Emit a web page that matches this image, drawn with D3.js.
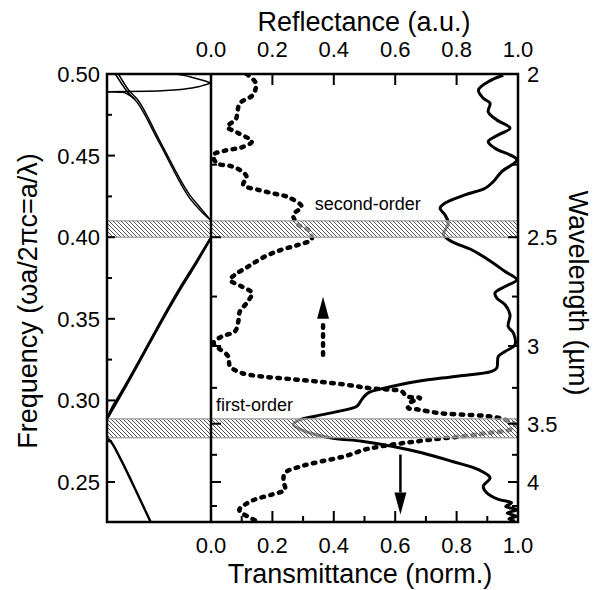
<!DOCTYPE html>
<html>
<head>
<meta charset="utf-8">
<script src="https://cdn.jsdelivr.net/npm/d3@7"></script>
<style>
body { margin: 0; background: #fff; }
text { font-family: "Liberation Sans", Arial, Helvetica, sans-serif; fill: #000; }
</style>
</head>
<body>
<div id="chart"></div>
<script>
// Reflectance (dotted), [frequency, value]
var reflectance = [
    [0.5000,0.116],[0.4943,0.146],[0.4871,0.136],[0.4821,0.094],[0.4769,0.086],[0.4723,0.081],
    [0.4677,0.053],[0.4641,0.086],[0.4586,0.133],[0.4551,0.100],[0.4531,0.046],[0.4504,0.008],
    [0.4453,0.019],[0.4437,0.062],[0.4412,0.094],[0.4371,0.116],[0.4321,0.105],[0.4290,0.154],
    [0.4266,0.208],[0.4245,0.252],[0.4188,0.295],[0.4137,0.268],[0.4076,0.284],[0.4045,0.317],
    [0.3988,0.328],[0.3953,0.284],[0.3923,0.230],[0.3882,0.176],[0.3821,0.122],[0.3770,0.078],
    [0.3739,0.062],[0.3698,0.100],[0.3658,0.133],[0.3597,0.116],[0.3545,0.094],[0.3484,0.089],
    [0.3423,0.078],[0.3392,0.035],[0.3352,0.008],[0.3321,0.024],[0.3270,0.056],[0.3209,0.062],
    [0.3168,0.100],[0.3147,0.165],[0.3132,0.252],[0.3117,0.339],[0.3097,0.436],[0.3076,0.512],
    [0.3066,0.577],[0.3056,0.621],[0.3025,0.637],[0.3015,0.681],[0.2985,0.648],[0.2954,0.642],
    [0.2944,0.675],[0.2923,0.740],[0.2913,0.817],[0.2903,0.903],[0.2882,0.958],[0.2852,0.990],
    [0.2821,0.974],[0.2801,0.903],[0.2780,0.817],[0.2760,0.719],[0.2740,0.632],[0.2719,0.556],
    [0.2699,0.502],[0.2658,0.436],[0.2627,0.361],[0.2597,0.295],[0.2556,0.241],[0.2505,0.236],
    [0.2454,0.241],[0.2423,0.198],[0.2393,0.143],[0.2362,0.111],[0.2330,0.092],[0.2311,0.100],
    [0.2290,0.118],[0.2260,0.149]
];

// Transmittance (solid), [frequency, value]
var transmittance = [
    [0.4994,0.952],[0.4953,0.903],[0.4902,0.871],[0.4851,0.887],[0.4821,0.909],[0.4769,0.903],
    [0.4718,0.931],[0.4668,0.974],[0.4627,0.936],[0.4586,0.903],[0.4545,0.925],[0.4474,0.996],
    [0.4402,0.947],[0.4341,0.920],[0.4300,0.893],[0.4259,0.827],[0.4209,0.762],[0.4178,0.746],
    [0.4137,0.762],[0.4086,0.773],[0.4015,0.757],[0.3974,0.784],[0.3923,0.849],[0.3862,0.903],
    [0.3790,0.958],[0.3739,0.996],[0.3698,0.958],[0.3658,0.925],[0.3627,0.931],[0.3586,0.958],
    [0.3525,0.974],[0.3453,0.968],[0.3413,0.985],[0.3341,0.990],[0.3300,0.958],[0.3270,0.936],
    [0.3199,0.931],[0.3178,0.914],[0.3147,0.795],[0.3117,0.675],[0.3076,0.567],[0.3046,0.512],
    [0.3005,0.491],[0.2964,0.475],[0.2933,0.415],[0.2903,0.339],[0.2882,0.290],[0.2852,0.268],
    [0.2811,0.306],[0.2770,0.393],[0.2750,0.491],[0.2719,0.589],[0.2679,0.686],[0.2627,0.784],
    [0.2576,0.871],[0.2526,0.909],[0.2474,0.887],[0.2434,0.898],[0.2393,0.936],[0.2373,0.979],
    [0.2350,0.960],[0.2330,0.998],[0.2310,0.965],[0.2290,0.995],[0.2275,0.970],[0.2260,0.990]
];

// Band structure, [k (0..1 across left panel), frequency]
var bandsThick = [
    [[0,0.2772],[0.04,0.2745],[0.125,0.2648],[0.25,0.2485],[0.42,0.2255]],
    [[0,0.2887],[0.125,0.3025],[0.70,0.3678],[0.86,0.3843],[1,0.3998]],
    [[0,0.2887],[0.06,0.2968],[0.125,0.3036],[0.70,0.3687],[0.86,0.3851],[1,0.3998]]
];
var bandsThin = [
    [[0.08,0.5],[0.2,0.4888],[0.29,0.4826],[0.5,0.4583],[0.8,0.4235],[0.9,0.4162],[1,0.4102]],
    [[0.11,0.5],[0.21,0.4900],[0.30,0.4838],[0.5,0.4600],[0.8,0.4255],[0.9,0.4178],[1,0.4102]],
    [[0,0.4892],[0.15,0.4888],[0.27,0.4845]],
    [[0,0.4892],[0.38,0.4894],[0.6,0.4900],[0.73,0.4907],[0.88,0.4922],[1,0.4945]],
    [[0.654,0.5],[0.75,0.4990],[0.83,0.4977],[0.92,0.4962],[1,0.4945]]
];

// Photonic band gaps [low, high]
var gaps = [[0.400,0.410],[0.2771,0.2887]];
var gapLabels = ["second-order", "first-order"];
var gapLabelPos = [[0.338,0.4168],[0.016,0.2938]];

// Arrows [x value, from freq, to freq]
var arrows = [[0.365,0.3280,0.3635],[0.617,0.2668,0.2301]];

var freqMajor = [0.25,0.30,0.35,0.40,0.45,0.50];
var freqMinor = [0.275,0.325,0.375,0.425,0.475];
var lambdaMajor = [2,2.5,3,3.5,4];
var lambdaMinor = [2.25,2.75,3.25,3.75,4.25];
var valueMajor = [0,0.2,0.4,0.6,0.8,1.0];
var valueMinor = [0.1,0.3,0.5,0.7,0.9];

var width = 597, height = 590;
var L = 107, M = 211, R = 518, T = 74, B = 522;

var svg = d3.select("#chart").append("svg")
    .attr("width", width)
    .attr("height", height);

var k = d3.scaleLinear().domain([0,1]).range([L,M]);
var x = d3.scaleLinear().domain([0,1]).range([M,R]);
var y = d3.scaleLinear().domain([0.2255,0.5]).range([B,T]);

var defs = svg.append("defs");
defs.append("clipPath").attr("id","clipL").append("rect")
    .attr("x",L).attr("y",T).attr("width",M-L).attr("height",B-T);
defs.append("clipPath").attr("id","clipR").append("rect")
    .attr("x",M).attr("y",T).attr("width",R-M).attr("height",B-T);
var pat = defs.append("pattern").attr("id","hatch")
    .attr("patternUnits","userSpaceOnUse").attr("width",4).attr("height",4);
pat.append("rect").attr("width",4).attr("height",4).attr("fill","#fff").attr("fill-opacity",0.55);
pat.append("path").attr("d","M-1,-1L5,5M3,-1L5,1M-1,3L1,5")
    .attr("stroke","#444").attr("stroke-width",0.9);

// band structure
var bandLine = d3.line()
    .x(function(d) { return k(d[0]); })
    .y(function(d) { return y(d[1]); })
    .curve(d3.curveMonotoneX);

var gL = svg.append("g").attr("clip-path","url(#clipL)");
gL.selectAll(".thick")
    .data(bandsThick)
    .enter()
    .append("path")
    .attr("d", bandLine)
    .attr("fill","none")
    .attr("stroke","#000")
    .attr("stroke-width",2.4);

gL.selectAll(".thin")
    .data(bandsThin)
    .enter()
    .append("path")
    .attr("d", bandLine)
    .attr("fill","none")
    .attr("stroke","#000")
    .attr("stroke-width",1.5);

// spectra
var specLine = d3.line()
    .x(function(d) { return x(d[1]); })
    .y(function(d) { return y(d[0]); })
    .curve(d3.curveCatmullRom.alpha(0.5));

var gR = svg.append("g").attr("clip-path","url(#clipR)");
gR.append("path")
    .datum(reflectance)
    .attr("d", specLine)
    .attr("fill","none")
    .attr("stroke","#000")
    .attr("stroke-width",4.5)
    .attr("stroke-linecap","round")
    .attr("stroke-dasharray","2.5,6.5");

gR.append("path")
    .datum(transmittance)
    .attr("d", specLine)
    .attr("fill","none")
    .attr("stroke","#000")
    .attr("stroke-width",3)
    .attr("stroke-linejoin","round");

// gaps (hatched)
svg.selectAll(".gap")
    .data(gaps)
    .enter()
    .append("rect")
    .attr("class","gap")
    .attr("x",L)
    .attr("width",R-L)
    .attr("y",function(d) { return y(d[1]); })
    .attr("height",function(d) { return y(d[0]) - y(d[1]); })
    .attr("fill","url(#hatch)")
    .attr("stroke","#999")
    .attr("stroke-width",1.2);

svg.selectAll(".gaplabel")
    .data(gapLabels)
    .enter()
    .append("text")
    .attr("x",function(d,i) { return x(gapLabelPos[i][0]); })
    .attr("y",function(d,i) { return y(gapLabelPos[i][1]); })
    .style("font-size","18px")
    .text(function(d) { return d; });

// arrows
arrows.forEach(function(a, i) {
    var ax = x(a[0]);
    var y0 = y(a[1]), y1 = y(a[2]);
    var dir = y1 < y0 ? 1 : -1;
    var headBase = y1 + dir * 22;
    svg.append("line")
        .attr("x1",ax).attr("x2",ax)
        .attr("y1",y0).attr("y2",headBase)
        .attr("stroke","#000")
        .attr("stroke-width", i === 0 ? 4.5 : 2.5)
        .attr("stroke-linecap", i === 0 ? "round" : "butt")
        .attr("stroke-dasharray", i === 0 ? "2.5,6.5" : null);
    svg.append("path")
        .attr("d","M" + ax + "," + y1 + "L" + (ax - 6) + "," + headBase + "L" + (ax + 6) + "," + headBase + "Z")
        .attr("fill","#000");
});

// ticks
function ticks(g, vals, pos, len, dir, vertical) {
    g.selectAll(null)
        .data(vals)
        .enter()
        .append("line")
        .attr("x1", function(d) { return vertical ? pos : x(d); })
        .attr("x2", function(d) { return vertical ? pos + dir * len : x(d); })
        .attr("y1", function(d) { return vertical ? y(d) : pos; })
        .attr("y2", function(d) { return vertical ? y(d) : pos + dir * len; })
        .attr("stroke","#000")
        .attr("stroke-width",2);
}
var gt = svg.append("g");
ticks(gt, freqMajor, L, 8, 1, true);
ticks(gt, freqMinor, L, 5, 1, true);
var lamMaj = lambdaMajor.map(function(l) { return 1 / l; });
var lamMin = lambdaMinor.map(function(l) { return 1 / l; });
ticks(gt, lamMaj, M, 10, 1, true);
ticks(gt, lamMin, M, 6, 1, true);
ticks(gt, lamMaj, R, 10, -1, true);
ticks(gt, lamMin, R, 6, -1, true);
ticks(gt, valueMajor.slice(1,5), T, 11, 1, false);
ticks(gt, valueMajor.slice(1,5), B, 11, -1, false);
ticks(gt, valueMinor, B, 6, -1, false);

// frame
svg.append("rect")
    .attr("x",L).attr("y",T).attr("width",R-L).attr("height",B-T)
    .attr("fill","none").attr("stroke","#000").attr("stroke-width",2.5);
svg.append("line")
    .attr("x1",M).attr("x2",M).attr("y1",T).attr("y2",B)
    .attr("stroke","#000").attr("stroke-width",2.5);

// tick labels
svg.selectAll(".fl")
    .data(freqMajor)
    .enter()
    .append("text")
    .attr("x",100)
    .attr("y",function(d) { return y(d) + 8; })
    .attr("text-anchor","end")
    .style("font-size","22px")
    .text(d3.format(".2f"));

svg.selectAll(".ll")
    .data(lambdaMajor)
    .enter()
    .append("text")
    .attr("x",527)
    .attr("y",function(d) { return y(1 / d) + 8; })
    .style("font-size","22px")
    .text(function(d) { return d; });

svg.selectAll(".tl")
    .data(valueMajor)
    .enter()
    .append("text")
    .attr("x",function(d) { return x(d); })
    .attr("y",57)
    .attr("text-anchor","middle")
    .style("font-size","22px")
    .text(d3.format(".1f"));

svg.selectAll(".bl")
    .data(valueMajor)
    .enter()
    .append("text")
    .attr("x",function(d) { return x(d); })
    .attr("y",553)
    .attr("text-anchor","middle")
    .style("font-size","22px")
    .text(d3.format(".1f"));

// axis titles
svg.append("text")
    .attr("x",364).attr("y",31)
    .attr("text-anchor","middle")
    .style("font-size","27px")
    .text("Reflectance (a.u.)");

svg.append("text")
    .attr("x",360).attr("y",583)
    .attr("text-anchor","middle")
    .style("font-size","27px")
    .text("Transmittance (norm.)");

svg.append("text")
    .attr("transform","translate(37,301) rotate(-90)")
    .attr("text-anchor","middle")
    .style("font-size","27px")
    .text("Frequency (\u03c9a/2\u03c0c=a/\u03bb)");

svg.append("text")
    .attr("transform","translate(569,293) rotate(90)")
    .attr("text-anchor","middle")
    .style("font-size","27px")
    .text("Wavelength (\u00b5m)");
</script>
</body>
</html>
